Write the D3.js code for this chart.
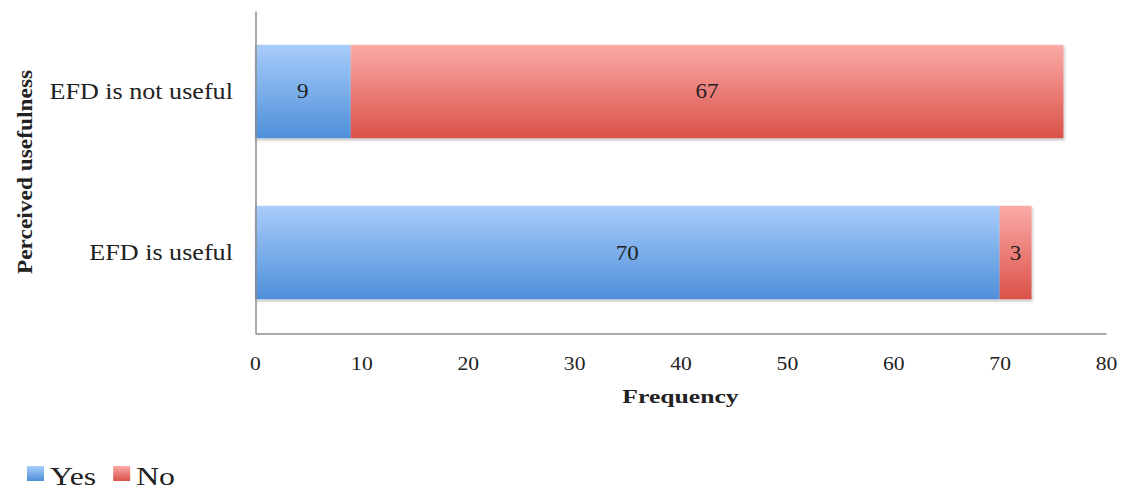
<!DOCTYPE html>
<html>
<head>
<meta charset="utf-8">
<script src="https://cdn.jsdelivr.net/npm/d3@7/dist/d3.min.js"></script>
<style>
  html, body { margin: 0; padding: 0; background: #fff; }
  svg { display: block; font-family: "Liberation Serif", "Times New Roman", serif; }
</style>
</head>
<body>
<svg id="chart" width="1128" height="491"></svg>
<script>
// Perceived usefulness of EFD, split by answer
const categories = ["EFD is not useful", "EFD is useful"];
const seriesNames = ["Yes", "No"];
const yesValues = [9, 70];
const noValues = [67, 3];
const xTicks = [0, 10, 20, 30, 40, 50, 60, 70, 80];

const svg = d3.select("#chart");
const margin = { left: 255, right: 22, top: 11, bottom: 158 };
const W = 1128, H = 491;

// Widen text horizontally around its anchor point (x attribute)
function widen(sel, k) {
  sel.each(function () {
    const t = d3.select(this);
    const ax = +t.attr("x") || 0;
    t.attr("transform", `translate(${ax},0) scale(${k},1) translate(${-ax},0)`);
  });
}

const x = d3.scaleLinear().domain([0, 80]).range([margin.left, W - margin.right]);
const y = d3.scaleBand().domain(categories).range([margin.top, H - margin.bottom]).paddingInner(0.42).paddingOuter(0.21);

const rows = categories.map((c, i) => ({ cat: c, Yes: yesValues[i], No: noValues[i] }));
const stacked = d3.stack().keys(seriesNames)(rows);

const defs = svg.append("defs");
const grads = {
  Yes: ["#a8cdfb", "#4e8fd9"],
  No: ["#fbaaa6", "#da5249"]
};
Object.entries(grads).forEach(([k, [c0, c1]]) => {
  const g = defs.append("linearGradient").attr("id", "g" + k).attr("x1", 0).attr("y1", 0).attr("x2", 0).attr("y2", 1);
  g.append("stop").attr("offset", "0%").attr("stop-color", c0);
  g.append("stop").attr("offset", "100%").attr("stop-color", c1);
});
const shadow = defs.append("filter").attr("id", "shadow").attr("x", "-5%").attr("y", "-10%").attr("width", "110%").attr("height", "130%");
shadow.append("feDropShadow").attr("dx", 1).attr("dy", 2).attr("stdDeviation", 1.5).attr("flood-color", "#000").attr("flood-opacity", 0.25);

// Bars
const barLayer = svg.append("g").attr("filter", "url(#shadow)");
stacked.forEach(s => {
  barLayer.append("g").selectAll("rect").data(s).join("rect")
    .attr("x", d => x(d[0]))
    .attr("width", d => x(d[1]) - x(d[0]))
    .attr("y", d => y(d.data.cat))
    .attr("height", y.bandwidth())
    .attr("fill", `url(#g${s.key})`);
});

// Value labels
stacked.forEach(s => {
  const labels = svg.append("g").selectAll("text").data(s).join("text")
    .attr("x", d => (x(d[0]) + x(d[1])) / 2)
    .attr("y", d => y(d.data.cat) + y.bandwidth() / 2)
    .attr("dy", "0.35em")
    .attr("text-anchor", "middle")
    .attr("font-size", 20)
    .attr("fill", "#222")
    .text(d => d.data[s.key]);
  widen(labels, 1.15);
});

// Axes
const xAxis = d3.axisBottom(x).tickValues(xTicks).tickSize(0).tickPadding(23.5);
const gx = svg.append("g").attr("transform", `translate(0,${H - margin.bottom + 0.5})`).call(xAxis);
gx.select(".domain").attr("stroke", "#8c8c8c").attr("stroke-width", 1.5);
gx.selectAll("text").attr("font-size", 18).attr("fill", "#222").attr("font-family", "Liberation Serif, serif");
widen(gx.selectAll("text"), 1.2);

const yAxis = d3.axisLeft(y).tickSize(0).tickPadding(19.5);
const gy = svg.append("g").attr("transform", `translate(${margin.left + 0.5},0)`).call(yAxis);
gy.select(".domain").attr("stroke", "#8c8c8c").attr("stroke-width", 1.5);
gy.selectAll("text").attr("font-size", 22.5).attr("fill", "#222").attr("font-family", "Liberation Serif, serif");
gy.selectAll("text").attr("transform", "scale(1.16,1)");

// Axis titles
const xt = svg.append("text")
  .attr("x", (x(0) + x(80)) / 2).attr("y", 403)
  .attr("text-anchor", "middle").attr("font-size", 19).attr("font-weight", "bold").attr("fill", "#222")
  .text("Frequency");
widen(xt, 1.35);
svg.append("text")
  .attr("transform", `translate(32,${(margin.top + H - margin.bottom) / 2}) rotate(-90) scale(1.17,1)`)
  .attr("text-anchor", "middle").attr("font-size", 20).attr("font-weight", "bold").attr("fill", "#222")
  .text("Perceived usefulness");

// Legend
const legend = svg.append("g").attr("transform", "translate(27,466)");
let lx = 0;
seriesNames.forEach(name => {
  const item = legend.append("g").attr("transform", `translate(${lx},0)`);
  item.append("rect").attr("width", 17).attr("height", 15).attr("fill", `url(#g${name})`);
  const t = item.append("text").attr("x", 23).attr("y", 19).attr("font-size", 26).attr("fill", "#222").text(name);
  widen(t, 1.22);
  lx += 23 + t.node().getComputedTextLength() * 1.22 + 17;
});
</script>
</body>
</html>
